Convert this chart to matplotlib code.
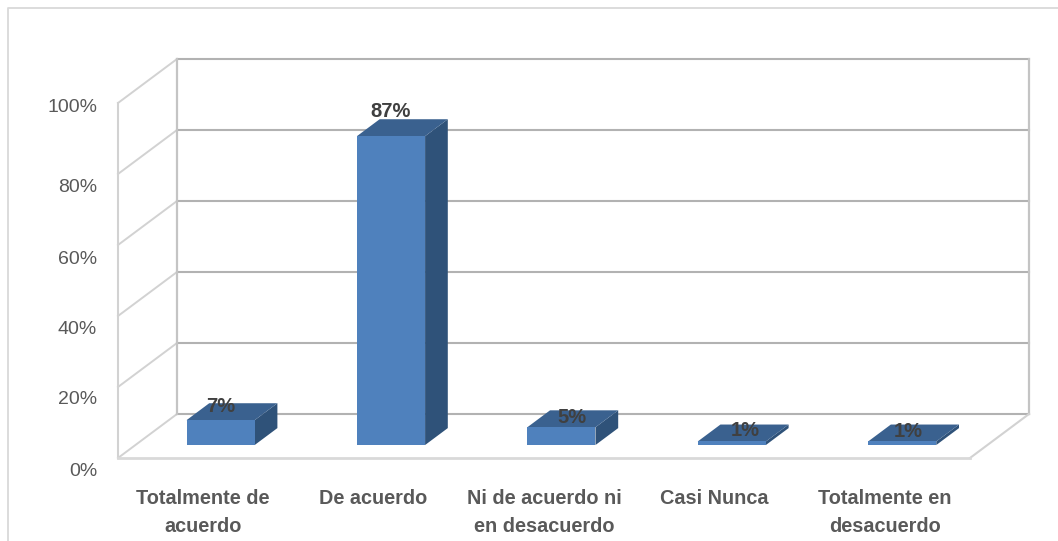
import matplotlib
matplotlib.use("Agg")
from matplotlib import pyplot as plt
from matplotlib.lines import Line2D
from matplotlib.transforms import ScaledTranslation

categories = ["Totalmente de\nacuerdo", "De acuerdo", "Ni de acuerdo ni\nen desacuerdo", "Casi Nunca", "Totalmente en\ndesacuerdo"]
values = [7, 87, 5, 1, 1]
yticks = [0, 20, 40, 60, 80, 100]
ytick_labels = ["0%", "20%", "40%", "60%", "80%", "100%"]

# label nudges in pixels, the original has them hand placed
ytick_nudge = [-11, -11, -11, -12, -12, -2]
value_nudge = [(0, 14), (0, 25), (11, 10), (13, 11), (6, 10)]

plt.rcParams["font.family"] = ["Liberation Sans"]

W, H = 1058, 541
fig = plt.figure(figsize=(W / 100, H / 100), dpi=100)
fig.patch.set_facecolor("white")
ax = fig.add_axes([118 / W, (H - 458) / H, 852 / W, 355 / H])
ax.set_xlim(-0.5, 4.5)
ax.set_ylim(0, 100)
ax.patch.set_visible(False)
for s in ax.spines.values():
    s.set_visible(False)

# 3d depth of the box and bars, as x/y shift in data units
box_dx = 59 / 170.4
box_dy = 44 / 3.55
bar_width = 0.4
bar_front = 0.295
bar_back = 0.68


def shift(x, y, d):
    return x + d * box_dx, y + d * box_dy


grid_c = "#B2B2B2"
wall_c = "#C4C4C4"
side_c = "#D2D2D2"
for t in yticks:
    x0, y0 = shift(-0.5, t, 0)
    x1, y1 = shift(-0.5, t, 1)
    x2, y2 = shift(4.5, t, 1)
    ax.plot([x0, x1], [y0, y1], color=side_c, lw=1.4, clip_on=False, zorder=1)
    ax.plot([x1, x2], [y1, y2], color=grid_c, lw=1.5, clip_on=False, zorder=1)

xb, yb = shift(-0.5, 0, 1)
xt, yt = shift(-0.5, 100, 1)
ax.plot([xb, xt], [yb, yt], color=wall_c, lw=1.6, clip_on=False, zorder=1)
ax.plot([-0.5, -0.5], [0, 100], color=side_c, lw=1.5, clip_on=False, zorder=1)
xb, yb = shift(4.5, 0, 1)
xt, yt = shift(4.5, 100, 1)
ax.plot([xb, xt], [yb, yt], color=wall_c, lw=1.6, clip_on=False, zorder=1)
ax.plot([4.5, xb], [0, yb], color=side_c, lw=1.5, clip_on=False, zorder=1)
ax.plot([-0.5, 4.5], [0, 0], color="#D9D9D9", lw=2, clip_on=False, zorder=2)

for i, v in enumerate(values):
    l, r = i - bar_width / 2, i + bar_width / 2
    fl = shift(l, 0, bar_front)
    fr = shift(r, 0, bar_front)
    tl = shift(l, v, bar_front)
    tr = shift(r, v, bar_front)
    bl = shift(l, v, bar_back)
    br = shift(r, v, bar_back)
    br0 = shift(r, 0, bar_back)
    ax.fill([fr[0], tr[0], br[0], br0[0]], [fr[1], tr[1], br[1], br0[1]], color="#2F5279", lw=0, clip_on=False, zorder=3)
    ax.fill([tl[0], tr[0], br[0], bl[0]], [tl[1], tr[1], br[1], bl[1]], color="#3A618F", lw=0, clip_on=False, zorder=3)
    ax.fill([fl[0], fr[0], tr[0], tl[0]], [fl[1], fr[1], tr[1], tl[1]], color="#4F81BD", lw=0, clip_on=False, zorder=4)
    cx = (fl[0] + fr[0]) / 2
    ax.annotate(f"{v}%", (cx, tl[1]), xytext=(value_nudge[i][0] * 0.72, value_nudge[i][1] * 0.72),
                textcoords="offset points", ha="center", va="center",
                fontsize=14.5, fontweight="bold", color="#404040", zorder=5)

ax.set_yticks(yticks)
ax.set_yticklabels(ytick_labels, fontsize=14, color="#595959")
ax.tick_params(axis="y", length=0, pad=15)
for lab, n in zip(ax.get_yticklabels(), ytick_nudge):
    lab.set_transform(lab.get_transform() + ScaledTranslation(0, n / 100, fig.dpi_scale_trans))

ax.set_xticks(range(len(categories)))
ax.set_xticklabels(categories, fontsize=14.3, fontweight="bold", color="#595959", linespacing=1.6)
ax.tick_params(axis="x", length=0, pad=22)

# chart border, only top and left show in the original
border = "#D9D9D9"
fig.add_artist(Line2D([8 / W, 8 / W, 1 / 1], [0, (H - 8) / H, (H - 8) / H], color=border, lw=1.3))

fig.savefig("out.png", dpi=100, facecolor="white")
